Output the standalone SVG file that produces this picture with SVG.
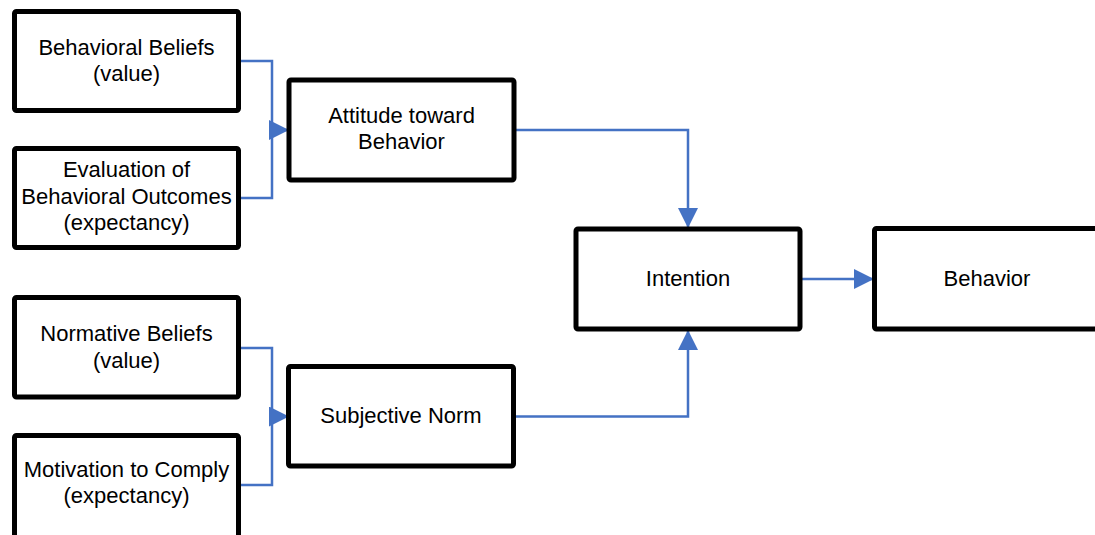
<svg xmlns="http://www.w3.org/2000/svg" width="1095" height="535" viewBox="0 0 1095 535">
  <style>
    .box { fill: #ffffff; stroke: #000000; stroke-width: 5; }
    .lbl { font-family: "Liberation Sans", Arial, sans-serif; font-size: 22px; fill: #000000; text-anchor: middle; }
    .link { fill: none; stroke: #4472C4; stroke-width: 2.5; }
  </style>
  <defs>
    <marker id="arrow" markerUnits="userSpaceOnUse" markerWidth="20" markerHeight="20" refX="20" refY="10" orient="auto" viewBox="0 0 20 20">
      <path d="M0,0 L20,10 L0,20 z" fill="#4472C4"/>
    </marker>
  </defs>

  <!-- connectors -->
  <g id="connectors">
    <path class="link" d="M238,61 H272 V198 H238"/>
    <path class="link" d="M269,130 H289" marker-end="url(#arrow)"/>
    <path class="link" d="M514,130 H688 V228" marker-end="url(#arrow)"/>
    <path class="link" d="M238,348 H272 V485 H238"/>
    <path class="link" d="M269,416.5 H289" marker-end="url(#arrow)"/>
    <path class="link" d="M514,416.5 H688 V330" marker-end="url(#arrow)"/>
    <path class="link" d="M800,279 H874" marker-end="url(#arrow)"/>
  </g>

  <g id="behavioral-beliefs">
    <rect class="box" x="14.5" y="11.5" width="224" height="99" rx="2"/>
    <text class="lbl" x="126.5" y="55">Behavioral Beliefs</text>
    <text class="lbl" x="126.5" y="81">(value)</text>
  </g>

  <g id="evaluation-outcomes">
    <rect class="box" x="14.5" y="148.5" width="224" height="99" rx="2"/>
    <text class="lbl" x="126.5" y="177.3">Evaluation of</text>
    <text class="lbl" x="126.5" y="204">Behavioral Outcomes</text>
    <text class="lbl" x="126.5" y="230">(expectancy)</text>
  </g>

  <g id="attitude">
    <rect class="box" x="289" y="80" width="225" height="100" rx="2"/>
    <text class="lbl" x="401.5" y="122.7">Attitude toward</text>
    <text class="lbl" x="401.5" y="149.3">Behavior</text>
  </g>

  <g id="intention">
    <rect class="box" x="576" y="229" width="224" height="100" rx="2"/>
    <text class="lbl" x="688" y="286">Intention</text>
  </g>

  <g id="behavior">
    <rect class="box" x="874.5" y="228.5" width="230" height="100.5" rx="2"/>
    <text class="lbl" x="987" y="286">Behavior</text>
  </g>

  <g id="normative-beliefs">
    <rect class="box" x="14.5" y="297.5" width="224" height="99.5" rx="2"/>
    <text class="lbl" x="126.5" y="341">Normative Beliefs</text>
    <text class="lbl" x="126.5" y="368">(value)</text>
  </g>

  <g id="motivation-comply">
    <rect class="box" x="14.5" y="435.5" width="224" height="110" rx="2"/>
    <text class="lbl" x="126.5" y="476.7">Motivation to Comply</text>
    <text class="lbl" x="126.5" y="503">(expectancy)</text>
  </g>

  <g id="subjective-norm">
    <rect class="box" x="288.5" y="366.5" width="225" height="99.5" rx="2"/>
    <text class="lbl" x="401" y="422.7">Subjective Norm</text>
  </g>
</svg>
